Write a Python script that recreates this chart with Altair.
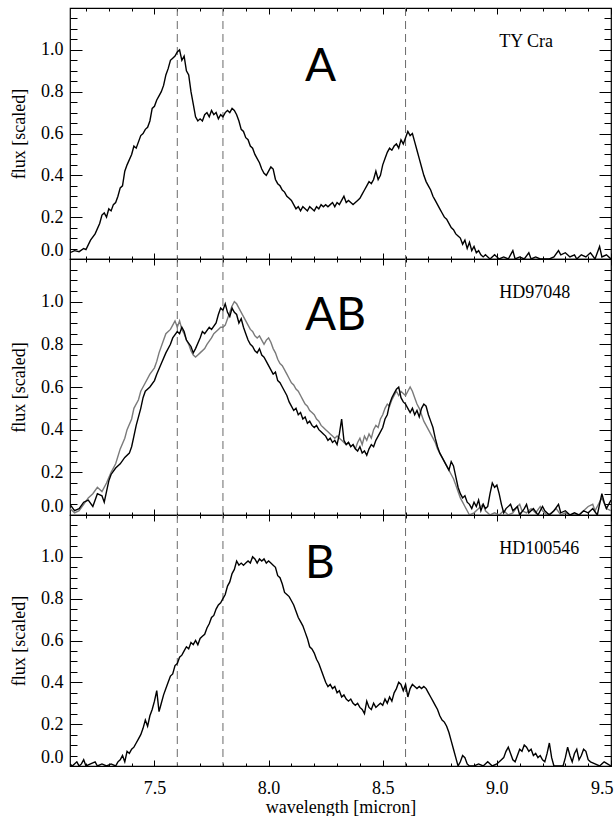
import altair as alt
import pandas as pd

# ---------------- data ----------------
tycra_w = [7.13,7.15,7.17,7.19,7.20,7.22,7.24,7.26,7.27,7.28,7.29,7.30,7.31,7.32,7.33,7.34,7.35,7.36,7.37,7.38,
           7.40,7.41,7.42,7.44,7.45,7.46,7.47,7.48,7.49,7.50,7.51,7.52,7.53,7.54,7.55,7.56,7.57,7.58,7.59,7.60,
           7.61,7.62,7.63,7.64,7.65,7.66,7.67,7.68,7.69,7.70,7.71,7.72,7.73,7.74,7.75,7.76,7.77,7.78,7.79,7.80,
           7.81,7.82,7.83,7.84,7.85,7.86,7.87,7.88,7.89,7.90,7.91,7.92,7.93,7.94,7.95,7.96,7.97,7.98,7.99,8.00,
           8.01,8.02,8.03,8.04,8.05,8.06,8.07,8.08,8.09,8.10,8.11,8.12,8.13,8.14,8.15,8.16,8.17,8.18,8.19,8.20,
           8.21,8.22,8.23,8.24,8.25,8.26,8.27,8.28,8.29,8.30,8.31,8.32,8.33,8.34,8.35,8.36,8.37,8.38,8.39,8.40,
           8.41,8.42,8.43,8.44,8.45,8.46,8.47,8.48,8.49,8.50,8.51,8.52,8.53,8.54,8.55,8.56,8.57,8.58,8.59,8.60,
           8.61,8.62,8.63,8.64,8.65,8.66,8.67,8.68,8.69,8.70,8.71,8.72,8.73,8.74,8.75,8.76,8.77,8.78,8.79,8.80,
           8.81,8.82,8.83,8.84,8.85,8.86,8.87,8.88,8.89,8.90,8.91,8.92,8.93,8.94,8.95,8.97,8.99,9.01,9.03,9.05,
           9.07,9.08,9.10,9.12,9.14,9.15,9.17,9.19,9.21,9.23,9.25,9.27,9.28,9.30,9.32,9.34,9.35,9.37,9.39,9.41,
           9.43,9.45,9.46,9.48,9.50]
tycra_f = [0.03,0.04,0.035,0.05,0.045,0.09,0.12,0.17,0.21,0.22,0.20,0.24,0.23,0.26,0.27,0.30,0.34,0.35,0.42,0.45,
           0.50,0.54,0.53,0.59,0.60,0.62,0.63,0.66,0.72,0.73,0.76,0.78,0.80,0.83,0.88,0.91,0.95,0.96,0.97,0.99,
           1.00,0.95,0.97,0.90,0.88,0.80,0.74,0.68,0.66,0.67,0.66,0.69,0.70,0.68,0.71,0.69,0.70,0.67,0.69,0.68,
           0.70,0.71,0.70,0.72,0.71,0.69,0.66,0.62,0.61,0.58,0.57,0.54,0.53,0.50,0.48,0.46,0.43,0.41,0.40,0.42,
           0.44,0.43,0.38,0.36,0.35,0.33,0.32,0.30,0.29,0.28,0.26,0.24,0.25,0.23,0.25,0.24,0.23,0.25,0.24,0.23,
           0.25,0.24,0.26,0.25,0.26,0.25,0.26,0.27,0.25,0.27,0.26,0.28,0.30,0.27,0.28,0.27,0.26,0.27,0.28,0.29,
           0.31,0.33,0.35,0.37,0.36,0.38,0.42,0.38,0.40,0.45,0.48,0.51,0.53,0.52,0.54,0.55,0.53,0.57,0.55,0.58,
           0.61,0.59,0.60,0.56,0.52,0.48,0.44,0.40,0.37,0.35,0.33,0.30,0.28,0.26,0.24,0.22,0.20,0.19,0.17,0.15,
           0.14,0.12,0.11,0.10,0.07,0.09,0.05,0.08,0.04,0.06,0.03,0.04,0.02,0.01,0.02,0.0,0.02,0.0,0.01,0.0,
           0.04,0.0,0.01,0.0,0.03,0.0,0.01,0.0,0.0,0.0,0.01,0.04,0.02,0.03,0.01,0.02,0.0,0.02,0.01,0.03,
           0.0,0.06,0.01,0.02,0.0]

hd97_black_w = [7.13,7.15,7.17,7.19,7.21,7.23,7.25,7.27,7.28,7.30,7.31,7.33,7.35,7.37,7.39,7.40,7.41,7.42,7.44,7.45,
                7.46,7.48,7.50,7.51,7.53,7.55,7.57,7.58,7.60,7.61,7.62,7.63,7.64,7.66,7.67,7.68,7.70,7.71,7.72,7.74,
                7.75,7.77,7.78,7.79,7.80,7.81,7.82,7.83,7.84,7.85,7.86,7.87,7.88,7.89,7.90,7.91,7.92,7.93,7.94,7.95,
                7.96,7.97,7.98,7.99,8.00,8.01,8.02,8.03,8.04,8.05,8.06,8.07,8.08,8.09,8.10,8.11,8.12,8.13,8.14,8.15,
                8.16,8.17,8.18,8.19,8.20,8.21,8.22,8.23,8.24,8.25,8.26,8.27,8.28,8.29,8.30,8.31,8.32,8.33,8.34,8.35,
                8.36,8.37,8.38,8.39,8.40,8.41,8.42,8.43,8.44,8.45,8.46,8.47,8.48,8.49,8.50,8.51,8.52,8.53,8.54,8.55,
                8.56,8.57,8.58,8.59,8.60,8.61,8.62,8.63,8.64,8.65,8.66,8.67,8.68,8.69,8.70,8.71,8.72,8.73,8.74,8.75,
                8.76,8.77,8.78,8.79,8.80,8.81,8.82,8.83,8.84,8.85,8.86,8.87,8.88,8.89,8.90,8.91,8.92,8.93,8.94,8.95,
                8.96,8.97,8.98,8.99,9.00,9.01,9.02,9.03,9.04,9.06,9.07,9.09,9.10,9.12,9.13,9.14,9.16,9.18,9.20,9.21,
                9.23,9.25,9.27,9.28,9.30,9.32,9.34,9.36,9.38,9.40,9.42,9.44,9.46,9.47,9.48,9.50]
hd97_black_f = [0.05,0.02,0.03,0.06,0.07,0.04,0.10,0.09,0.06,0.16,0.19,0.22,0.24,0.27,0.29,0.32,0.37,0.42,0.50,0.55,
                0.58,0.60,0.63,0.66,0.71,0.76,0.80,0.83,0.86,0.85,0.88,0.86,0.82,0.79,0.76,0.78,0.83,0.86,0.85,0.88,
                0.87,0.90,0.94,0.97,0.96,0.99,0.95,0.93,0.97,0.95,0.94,0.90,0.92,0.88,0.85,0.82,0.80,0.79,0.77,0.76,
                0.78,0.75,0.74,0.72,0.70,0.68,0.66,0.67,0.63,0.62,0.60,0.58,0.56,0.53,0.51,0.49,0.50,0.47,0.48,0.45,
                0.46,0.43,0.44,0.42,0.41,0.42,0.40,0.39,0.38,0.37,0.35,0.36,0.34,0.35,0.33,0.38,0.45,0.35,0.33,0.34,
                0.32,0.33,0.31,0.30,0.32,0.29,0.30,0.28,0.31,0.33,0.32,0.35,0.37,0.39,0.41,0.45,0.47,0.52,0.55,0.57,
                0.59,0.60,0.55,0.53,0.52,0.50,0.48,0.50,0.47,0.49,0.46,0.50,0.52,0.51,0.47,0.44,0.41,0.36,0.32,0.29,
                0.27,0.25,0.23,0.21,0.25,0.23,0.18,0.13,0.10,0.08,0.09,0.06,0.05,0.03,0.06,0.04,0.07,0.02,0.05,0.03,
                0.04,0.10,0.15,0.13,0.14,0.10,0.05,0.01,0.03,0.05,0.02,0.04,0.0,0.03,0.05,0.01,0.03,0.0,0.04,0.02,
                0.0,0.02,0.05,0.01,0.02,0.0,0.01,0.0,0.02,0.01,0.03,0.0,0.10,0.06,0.03,0.07]

hd97_gray_w = [7.13,7.15,7.17,7.19,7.21,7.23,7.25,7.27,7.29,7.31,7.33,7.35,7.37,7.38,7.40,7.41,7.43,7.44,7.46,7.48,
               7.50,7.51,7.52,7.54,7.55,7.57,7.58,7.59,7.60,7.61,7.62,7.63,7.64,7.65,7.66,7.67,7.68,7.69,7.70,7.72,
               7.73,7.75,7.76,7.78,7.79,7.80,7.81,7.82,7.83,7.84,7.85,7.86,7.87,7.88,7.89,7.90,7.91,7.92,7.93,7.94,
               7.95,7.96,7.97,7.98,7.99,8.00,8.01,8.02,8.03,8.04,8.05,8.06,8.07,8.08,8.09,8.10,8.11,8.12,8.13,8.14,
               8.15,8.16,8.17,8.18,8.19,8.20,8.21,8.22,8.23,8.24,8.25,8.26,8.27,8.28,8.29,8.30,8.31,8.32,8.33,8.34,
               8.35,8.36,8.37,8.38,8.39,8.40,8.41,8.42,8.43,8.44,8.45,8.46,8.47,8.48,8.49,8.50,8.51,8.52,8.53,8.54,
               8.55,8.56,8.57,8.58,8.59,8.60,8.61,8.62,8.63,8.64,8.65,8.66,8.67,8.68,8.69,8.70,8.71,8.72,8.73,8.74,
               8.75,8.76,8.77,8.78,8.79,8.80,8.81,8.82,8.83,8.84,8.85,8.86,8.87,8.88,8.90,8.92,8.94,8.95,8.97,8.99,
               9.01,9.03,9.05,9.07,9.09,9.10,9.11,9.13,9.15,9.17,9.19,9.20,9.22,9.24,9.26,9.28,9.30,9.32,9.34,9.36,
               9.38,9.40,9.42,9.43,9.45,9.46,9.48,9.50]
hd97_gray_f = [0.03,0.01,0.02,0.05,0.08,0.10,0.13,0.11,0.15,0.20,0.24,0.31,0.36,0.40,0.45,0.50,0.54,0.58,0.62,0.66,
               0.69,0.72,0.76,0.82,0.85,0.87,0.89,0.91,0.88,0.91,0.87,0.85,0.82,0.80,0.77,0.75,0.74,0.75,0.76,0.78,
               0.80,0.83,0.85,0.87,0.88,0.88,0.89,0.92,0.95,0.98,1.00,0.99,0.97,0.95,0.93,0.91,0.89,0.87,0.86,0.84,
               0.83,0.84,0.82,0.80,0.82,0.83,0.81,0.78,0.76,0.73,0.71,0.70,0.68,0.66,0.64,0.62,0.61,0.59,0.58,0.56,
               0.54,0.52,0.51,0.49,0.48,0.47,0.45,0.44,0.42,0.41,0.40,0.39,0.38,0.37,0.36,0.37,0.36,0.35,0.34,0.33,
               0.34,0.32,0.33,0.31,0.34,0.36,0.33,0.37,0.35,0.38,0.36,0.40,0.42,0.41,0.45,0.47,0.50,0.52,0.51,0.54,
               0.56,0.58,0.56,0.58,0.57,0.56,0.58,0.60,0.58,0.55,0.52,0.50,0.47,0.44,0.42,0.40,0.38,0.36,0.34,0.31,
               0.29,0.27,0.25,0.23,0.21,0.19,0.17,0.14,0.11,0.08,0.06,0.04,0.02,0.0,0.01,0.03,0.05,0.02,0.0,0.01,
               0.0,0.02,0.0,0.01,0.04,0.05,0.02,0.01,0.03,0.01,0.04,0.02,0.0,0.01,0.03,0.0,0.01,0.0,0.0,0.0,
               0.02,0.04,0.05,0.02,0.06,0.08,0.03,0.02]

hd100_w = [7.13,7.14,7.16,7.17,7.18,7.19,7.20,7.22,7.24,7.25,7.27,7.29,7.31,7.33,7.34,7.35,7.36,7.37,7.38,7.39,
           7.40,7.41,7.42,7.43,7.44,7.45,7.46,7.47,7.48,7.49,7.50,7.51,7.52,7.53,7.54,7.55,7.56,7.57,7.58,7.59,
           7.60,7.61,7.62,7.63,7.64,7.65,7.66,7.67,7.68,7.69,7.70,7.71,7.72,7.73,7.74,7.75,7.76,7.77,7.78,7.79,
           7.80,7.81,7.82,7.83,7.84,7.85,7.86,7.87,7.88,7.89,7.90,7.91,7.92,7.93,7.94,7.95,7.96,7.97,7.98,7.99,
           8.00,8.01,8.02,8.03,8.04,8.05,8.06,8.07,8.08,8.09,8.10,8.11,8.12,8.13,8.14,8.15,8.16,8.17,8.18,8.19,
           8.20,8.21,8.22,8.23,8.24,8.25,8.26,8.27,8.28,8.29,8.30,8.31,8.32,8.33,8.34,8.35,8.36,8.37,8.38,8.39,
           8.40,8.41,8.42,8.43,8.44,8.45,8.46,8.47,8.48,8.49,8.50,8.51,8.52,8.53,8.54,8.55,8.56,8.57,8.58,8.59,
           8.60,8.61,8.62,8.63,8.64,8.65,8.66,8.67,8.68,8.69,8.70,8.71,8.72,8.73,8.74,8.75,8.76,8.77,8.78,8.79,
           8.80,8.81,8.82,8.83,8.84,8.85,8.86,8.87,8.88,8.90,8.92,8.94,8.96,8.98,9.00,9.02,9.03,9.04,9.05,9.06,
           9.07,9.08,9.09,9.10,9.11,9.12,9.13,9.14,9.15,9.16,9.17,9.18,9.19,9.20,9.21,9.22,9.23,9.24,9.25,9.27,
           9.29,9.30,9.31,9.32,9.33,9.34,9.35,9.36,9.37,9.38,9.39,9.40,9.41,9.43,9.45,9.47,9.50]
hd100_f = [0.01,0.0,0.02,0.0,0.01,0.03,0.0,0.01,0.02,0.0,0.01,0.0,0.01,0.0,0.02,0.03,0.05,0.02,0.07,0.06,
           0.08,0.09,0.11,0.13,0.15,0.18,0.22,0.19,0.24,0.27,0.31,0.36,0.26,0.30,0.34,0.37,0.40,0.43,0.44,0.48,
           0.49,0.52,0.53,0.55,0.57,0.56,0.59,0.58,0.60,0.58,0.61,0.62,0.63,0.66,0.68,0.71,0.72,0.75,0.77,0.78,
           0.80,0.82,0.86,0.88,0.92,0.94,0.98,0.96,0.97,0.96,0.97,0.98,0.97,1.00,0.99,0.97,0.99,0.98,0.99,0.97,
           0.98,0.97,0.96,0.95,0.91,0.90,0.87,0.83,0.82,0.81,0.79,0.77,0.74,0.71,0.69,0.67,0.64,0.61,0.57,0.56,
           0.54,0.51,0.49,0.46,0.43,0.40,0.38,0.39,0.37,0.38,0.35,0.36,0.33,0.34,0.32,0.31,0.32,0.30,0.29,0.30,
           0.28,0.27,0.25,0.31,0.28,0.27,0.30,0.28,0.29,0.30,0.29,0.32,0.30,0.33,0.31,0.35,0.37,0.40,0.39,0.36,
           0.39,0.33,0.37,0.39,0.38,0.37,0.38,0.37,0.38,0.37,0.35,0.33,0.31,0.29,0.27,0.24,0.22,0.21,0.19,0.16,
           0.12,0.08,0.04,0.0,0.02,0.05,0.04,0.01,0.0,0.0,0.01,0.0,0.02,0.0,0.01,0.03,0.04,0.07,0.09,0.06,
           0.03,0.02,0.05,0.08,0.07,0.10,0.09,0.07,0.08,0.05,0.06,0.04,0.05,0.03,0.02,0.06,0.11,0.04,0.0,0.0,
           0.0,0.04,0.09,0.05,0.02,0.06,0.08,0.03,0.05,0.08,0.07,0.03,0.02,0.01,0.0,0.02,0.0]

# reference features and axis tick values
feature_lines = [7.6, 7.8, 8.6]
x_major = [7.5, 8.0, 8.5, 9.0, 9.5]
x_minor = [7.2, 7.3, 7.4, 7.6, 7.7, 7.8, 7.9, 8.1, 8.2, 8.3, 8.4, 8.6, 8.7, 8.8, 8.9, 9.1, 9.2, 9.3, 9.4]
y_major = [0.0, 0.2, 0.4, 0.6, 0.8, 1.0, 1.2]
y_minor = [0.05, 0.1, 0.15, 0.25, 0.3, 0.35, 0.45, 0.5, 0.55, 0.65, 0.7, 0.75, 0.85, 0.9, 0.95, 1.05, 1.1, 1.15]
y_labels = [0.0, 0.2, 0.4, 0.6, 0.8, 1.0]

# ---------------- styling ----------------
W = 541
XDOM = [7.13, 9.5]
YDOM = [0.0, 1.2]
SERIF = "Liberation Serif"
SANS = "Lato"
FS = 18


def xsc():
    return alt.Scale(domain=XDOM, nice=False, zero=False)


def ysc():
    return alt.Scale(domain=YDOM, nice=False, zero=False)


def tick_axis(orient, offset, values, size):
    return alt.Axis(orient=orient, offset=offset, values=values, tickSize=size, ticks=True,
                    labels=False, domain=False, grid=False, title=None, minExtent=0,
                    tickColor="black", tickWidth=1)


def tick_layers(df, H):
    layers = []
    specs = [
        # x: inward at bottom / top ; y: inward at left / right
        (("top", -H, x_major, 6), ("right", -W, y_major, 12)),
        (("top", -H, x_minor, 3), ("right", -W, y_minor, 7)),
        (("bottom", -H, x_major, 6), ("left", -W, y_major, 12)),
        (("bottom", -H, x_minor, 3), ("left", -W, y_minor, 7)),
    ]
    for xs, ys in specs:
        layers.append(
            alt.Chart(df).mark_point(opacity=0).encode(
                x=alt.X("w:Q", scale=xsc(), axis=tick_axis(*xs)),
                y=alt.Y("f:Q", scale=ysc(), axis=tick_axis(*ys)),
            )
        )
    return layers


def panel(series, name, letter, letter_y, bottom, H):
    frames = []
    for key, (ws, fs) in series.items():
        frames.append(pd.DataFrame({"w": ws, "f": fs, "s": key}))
    df = pd.concat(frames, ignore_index=True)

    if bottom:
        xaxis = alt.Axis(orient="bottom", values=x_major, format=".1f", ticks=False, tickSize=0,
                         domain=False, grid=False, labelFlush=True, labelFlushOffset=2,
                         labelFont=SERIF, labelFontSize=FS, labelColor="black", labelPadding=13,
                         title="wavelength [micron]", titleFont=SERIF, titleFontSize=FS,
                         titleFontWeight="normal", titleColor="black", titlePadding=1)
    else:
        xaxis = alt.Axis(orient="bottom", values=x_major, ticks=False, tickSize=0, domain=False,
                         grid=False, labels=False, title=None)
    yaxis = alt.Axis(orient="left", values=y_labels, format=".1f", ticks=False, tickSize=0,
                     domain=False, grid=False, labelFlush=True, labelFont=SERIF, labelFontSize=FS,
                     labelColor="black", labelPadding=7, title="flux [scaled]", titleFont=SERIF,
                     titleFontSize=FS, titleFontWeight="normal", titleColor="black",
                     titlePadding=12)

    rules = alt.Chart(pd.DataFrame({"w": feature_lines})).mark_rule(
        color="#6a6a6a", strokeDash=[8, 5], strokeWidth=1
    ).encode(x=alt.X("w:Q", scale=xsc(), axis=None))

    layers = [rules] + tick_layers(df, H)

    colors = {"black": "#000000", "gray": "#7a7a7a"}
    first = True
    for key in ["gray", "black"]:
        if key not in series:
            continue
        sub = df[df.s == key]
        ln = alt.Chart(sub).mark_line(color=colors[key], strokeWidth=1.4, clip=True).encode(
            x=alt.X("w:Q", scale=xsc(), axis=xaxis if first else None),
            y=alt.Y("f:Q", scale=ysc(), axis=yaxis if first else None),
        )
        first = False
        layers.append(ln)

    one = pd.DataFrame({"k": [0]})
    name_txt = alt.Chart(one).mark_text(
        text=name, font=SERIF, fontSize=FS, color="black", align="left", baseline="alphabetic"
    ).encode(x=alt.XDatum(9.01, scale=xsc(), axis=None), y=alt.YDatum(1.015, scale=ysc(), axis=None))
    letter_txt = alt.Chart(one).mark_text(
        text=letter, font=SANS, fontSize=46, color="black", align="left", baseline="alphabetic"
    ).encode(x=alt.XDatum(8.16, scale=xsc(), axis=None), y=alt.YDatum(letter_y, scale=ysc(), axis=None))
    layers += [name_txt, letter_txt]

    return alt.layer(*layers).resolve_axis(x="independent", y="independent").properties(
        width=W, height=H
    )


p1 = panel({"black": (tycra_w, tycra_f)}, "TY Cra", "A", 0.852, False, 251)
p2 = panel({"gray": (hd97_gray_w, hd97_gray_f), "black": (hd97_black_w, hd97_black_f)},
           "HD97048", "AB", 0.865, False, 256)
p3 = panel({"black": (hd100_w, hd100_f)}, "HD100546", "B", 0.90, True, 251)

chart = alt.vconcat(p1, p2, p3, spacing=0, bounds="flush").properties(
    padding={"left": 9, "top": 6, "right": 0, "bottom": 0},
    background="white",
).configure_view(stroke="black", strokeWidth=1.2).configure_axis(grid=False)

chart.save("out.html", embed_options={"renderer": "svg", "actions": False})
